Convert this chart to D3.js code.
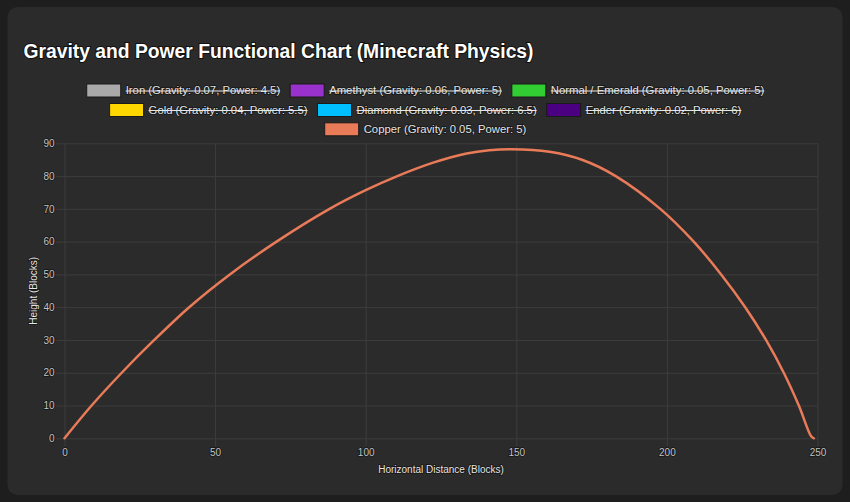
<!DOCTYPE html>
<html>
<head>
<meta charset="utf-8">
<script src="https://cdn.jsdelivr.net/npm/d3@7"></script>
<style>
  html, body { margin: 0; padding: 0; background: #1e1e1e; }
  svg { display: block; font-family: "Liberation Sans", Arial, Helvetica, sans-serif; }
</style>
</head>
<body>
<script>
// data
var datasetNames = [
  "Iron (Gravity: 0.07, Power: 4.5)",
  "Amethyst (Gravity: 0.06, Power: 5)",
  "Normal / Emerald (Gravity: 0.05, Power: 5)",
  "Gold (Gravity: 0.04, Power: 5.5)",
  "Diamond (Gravity: 0.03, Power: 6.5)",
  "Ender (Gravity: 0.02, Power: 6)",
  "Copper (Gravity: 0.05, Power: 5)"
];
var datasetColors = ["#a9a9a9", "#9932cc", "#32cd32", "#ffd700", "#00bfff", "#4b0082", "#e97b59"];
var datasetHidden = [true, true, true, true, true, true, false];

// copper trajectory (the only visible series)
var copperX = [0, 9, 19, 29.8, 41.4, 54.9, 70.4, 88, 100, 110.5, 122.4, 133.5, 141, 148.5, 161, 172, 183, 197.8, 208.9, 218, 226, 232.9, 238.8, 243.8, 247.9, 248.8];
var copperY = [0, 10, 20, 30, 40, 50, 60, 70, 75.7, 80, 84.1, 86.9, 87.9, 88.2, 87.4, 84.9, 80, 70, 60, 50, 40, 30, 20, 10, 0.6, 0];

var xTicks = [0, 50, 100, 150, 200, 250];
var yTicks = [0, 10, 20, 30, 40, 50, 60, 70, 80, 90];

var width = 850, height = 502;
var margin = {left: 64.5, right: 32.5, top: 143.3, bottom: 63.7};
var plotW = width - margin.left - margin.right;
var plotH = height - margin.top - margin.bottom;

var svg = d3.select("body").append("svg")
  .attr("width", width)
  .attr("height", height);

// card
svg.append("rect")
  .attr("x", 7.5).attr("y", 7)
  .attr("width", 835).attr("height", 488)
  .attr("rx", 10)
  .attr("fill", "#2b2b2b");

svg.append("text")
  .attr("x", 23.5).attr("y", 57.5)
  .attr("fill", "#ffffff")
  .attr("stroke", "#111")
  .attr("stroke-width", 2)
  .attr("paint-order", "stroke")
  .style("font-size", "19.3px")
  .style("font-weight", "bold")
  .text("Gravity and Power Functional Chart (Minecraft Physics)");

// legend, laid out in centred rows like the original
var legend = svg.append("g").attr("class", "legend");
var boxW = 34, boxH = 13, gap = 10, maxRow = 810, centerX = 425.5;
var rowYs = [90.5, 110, 129.3];

var items = datasetNames.map(function(name, i) {
  var t = legend.append("text")
    .style("font-size", "11.3px")
    .attr("fill", "#e6e6e6")
    .attr("stroke", "#151515")
    .attr("stroke-width", 1.5)
    .attr("paint-order", "stroke")
    .attr("dy", "0.35em")
    .text(name);
  var tw = t.node().getComputedTextLength();
  return {i: i, text: t, tw: tw, w: boxW + 5 + tw};
});

var rows = [[]], rowW = [0];
items.forEach(function(it) {
  var r = rows.length - 1;
  var add = rows[r].length ? gap + it.w : it.w;
  if (rowW[r] + add > maxRow && rows[r].length) {
    rows.push([it]); rowW.push(it.w);
  } else {
    rows[r].push(it); rowW[r] += add;
  }
});

rows.forEach(function(row, r) {
  var x = centerX - rowW[r] / 2;
  var cy = rowYs[r];
  row.forEach(function(it) {
    legend.append("rect")
      .attr("x", x).attr("y", cy - boxH / 2)
      .attr("width", boxW).attr("height", boxH)
      .attr("fill", datasetColors[it.i])
      .attr("stroke", "#1a1a1a")
      .attr("stroke-width", 1);
    it.text.attr("x", x + boxW + 5).attr("y", cy);
    if (datasetHidden[it.i]) {
      legend.append("line")
        .attr("x1", x + boxW + 5).attr("x2", x + boxW + 5 + it.tw)
        .attr("y1", cy + 0.5).attr("y2", cy + 0.5)
        .attr("stroke", "#e6e6e6")
        .attr("stroke-width", 1.2);
    }
    x += it.w + gap;
  });
});

var g = svg.append("g")
  .attr("transform", "translate(" + margin.left + "," + margin.top + ")");

var x = d3.scaleLinear().domain([0, 250]).range([0, plotW]);
var y = d3.scaleLinear().domain([0, 90]).range([plotH, 0]);

var xAxis = g.append("g")
  .attr("transform", "translate(0," + (plotH + 8) + ")")
  .call(d3.axisBottom(x).tickValues(xTicks).tickSize(-(plotH + 8)).tickPadding(2.5));

var yAxis = g.append("g")
  .attr("transform", "translate(-8,0)")
  .call(d3.axisLeft(y).tickValues(yTicks).tickSize(-(plotW + 8)).tickPadding(2));

[xAxis, yAxis].forEach(function(a) {
  a.select(".domain").remove();
  a.selectAll(".tick line").attr("stroke", "#3d3d3d").attr("stroke-width", 1);
  a.selectAll(".tick text")
    .attr("fill", "#c4c4c4")
    .attr("stroke", "#151515")
    .attr("stroke-width", 1.5)
    .attr("paint-order", "stroke")
    .style("font-size", "10px")
    .style("font-family", "'Liberation Sans', Arial, sans-serif");
});

g.append("text")
  .attr("x", plotW / 2).attr("y", plotH + 31)
  .attr("text-anchor", "middle")
  .attr("dy", "0.35em")
  .attr("fill", "#e6e6e6")
  .attr("stroke", "#151515")
  .attr("stroke-width", 1.5)
  .attr("paint-order", "stroke")
  .style("font-size", "10px")
  .text("Horizontal Distance (Blocks)");

g.append("text")
  .attr("transform", "translate(" + (-31.2) + "," + (plotH / 2) + ") rotate(-90)")
  .attr("text-anchor", "middle")
  .attr("dy", "0.35em")
  .attr("fill", "#e6e6e6")
  .attr("stroke", "#151515")
  .attr("stroke-width", 1.5)
  .attr("paint-order", "stroke")
  .style("font-size", "10px")
  .text("Height (Blocks)");

var copper = copperX.map(function(d, i) { return {x: d, y: copperY[i]}; });

var line = d3.line()
  .x(function(d) { return x(d.x); })
  .y(function(d) { return y(d.y); })
  .curve(d3.curveCatmullRom.alpha(0.5));

g.append("path")
  .datum(copper)
  .attr("fill", "none")
  .attr("stroke", datasetColors[6])
  .attr("stroke-width", 2.5)
  .attr("stroke-linejoin", "round")
  .attr("stroke-linecap", "round")
  .attr("d", line);
</script>
</body>
</html>
